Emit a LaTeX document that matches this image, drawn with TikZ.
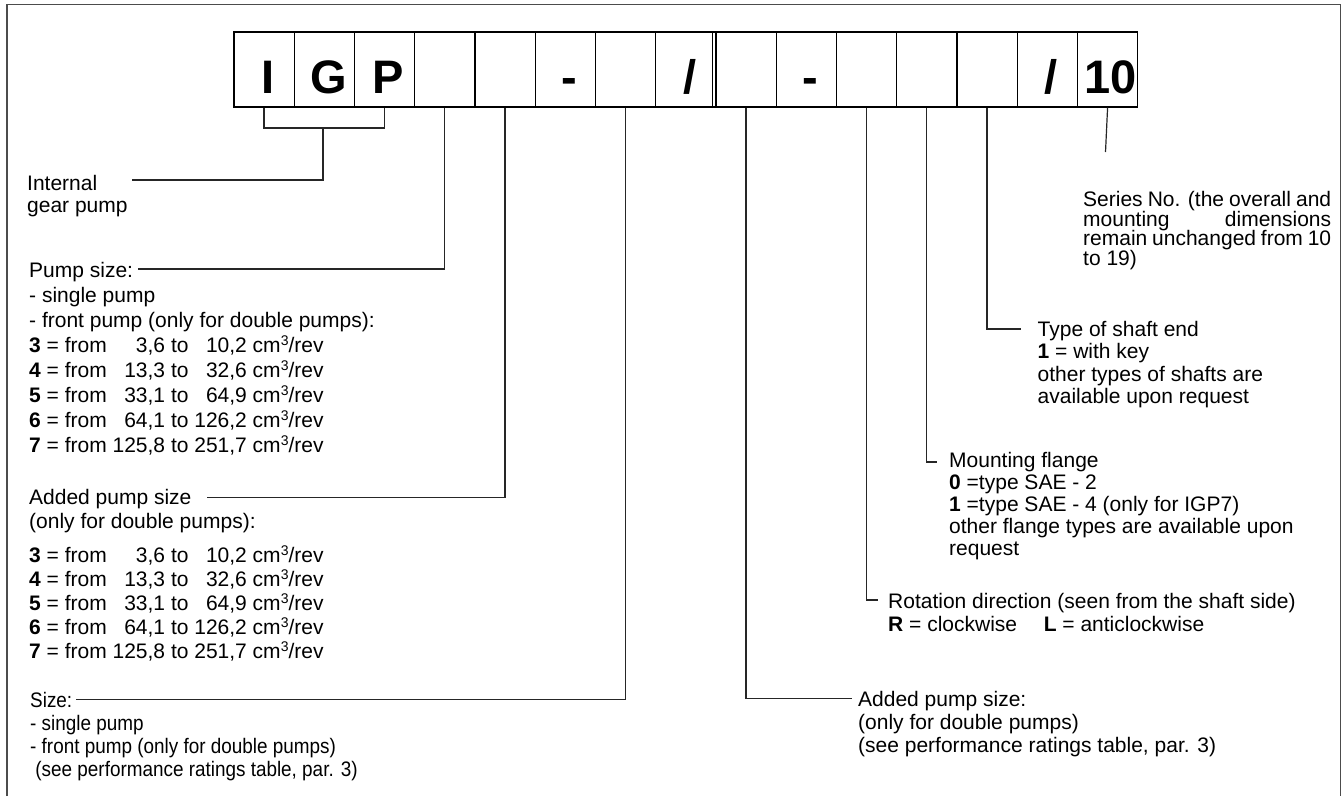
\documentclass[tikz,border=0pt]{standalone}
\usepackage{fontspec}
\setmainfont{Liberation Sans}
\newfontfamily\narrowfont[FakeStretch=0.9]{Liberation Sans}
\usetikzlibrary{calc}
\newcommand{\fsA}{\fontsize{21}{24}\selectfont}
\newcommand{\cubed}{\raisebox{7pt}{\fontsize{14}{14}\selectfont 3}}
\newcommand{\lns}[2]{\vtop{\baselineskip=#1pt\lineskiplimit=-100pt\lineskip=0pt #2}}
\tikzset{
  cell/.style={draw, line width=1.3pt, minimum width=60.25pt, minimum height=75pt, inner sep=0pt, anchor=west},
  glyph/.style={anchor=base, inner sep=0pt, font=\fontsize{47}{50}\selectfont\bfseries},
  txt/.style={anchor=base west, inner sep=0pt, font=\fsA},
  ntxt/.style={anchor=base west, inner sep=0pt, font=\narrowfont\fsA},
  conn/.style={line width=1.2pt, black!85},
  frame/.style={line width=1.6pt, black!70}
}
\begin{document}
\begin{tikzpicture}[x=1pt, y=-1pt]
\useasboundingbox (0,0) rectangle (1343,796);
\draw[frame] (7,796) -- (7,4.5) -- (1340.5,4.5) -- (1340.5,796);

% code boxes
\foreach \i in {1,...,15} \node[cell] (b\i) at ({233.3+60.25*(\i-1)}, 69.5) {};
\draw[line width=1pt] ($(b9.north west)+(-2.5,0)$) -- ($(b9.south west)+(-2.5,0)$);

\node[glyph] (gI)  at ($(b1.south)+(4,-14.5)$) {I};
\node[glyph] (gG)  at ($(b2.south)+(4,-14.5)$) {G};
\node[glyph] (gP)  at ($(b3.south)+(4,-14.5)$) {P};
\node[glyph] (gd1) at ($(b6.south)+(4,-14.5)$) {-};
\node[glyph] (gs1) at ($(b8.south)+(4,-14.5)$) {/};
\node[glyph] (gd2) at ($(b10.south)+(4,-14.5)$) {-};
\node[glyph] (gs2) at ($(b14.south)+(4,-14.5)$) {/};
\node[glyph] (g10) at ($(b15.south)+(3,-14.5)$) {10};

% left texts
\node[txt] (igp) at (27,190) {\lns{22.5}{\hbox{Internal}\hbox{gear pump}}};

\node[txt] (psz) at (29,277) {\lns{25}{%
\hbox{Pump size:}%
\hbox{- single pump}%
\hbox{- front pump (only for double pumps):}%
\hbox{\textbf{3} = from \phantom{12}3,6 to \phantom{1}10,2 cm\cubed/rev}%
\hbox{\textbf{4} = from \phantom{1}13,3 to \phantom{1}32,6 cm\cubed/rev}%
\hbox{\textbf{5} = from \phantom{1}33,1 to \phantom{1}64,9 cm\cubed/rev}%
\hbox{\textbf{6} = from \phantom{1}64,1 to 126,2 cm\cubed/rev}%
\hbox{\textbf{7} = from 125,8 to 251,7 cm\cubed/rev}}};

\node[txt] (add) at (29,504) {\lns{24}{%
\hbox{Added pump size}%
\hbox{(only for double pumps):}\vskip10.5pt
\hbox{\textbf{3} = from \phantom{12}3,6 to \phantom{1}10,2 cm\cubed/rev}%
\hbox{\textbf{4} = from \phantom{1}13,3 to \phantom{1}32,6 cm\cubed/rev}%
\hbox{\textbf{5} = from \phantom{1}33,1 to \phantom{1}64,9 cm\cubed/rev}%
\hbox{\textbf{6} = from \phantom{1}64,1 to 126,2 cm\cubed/rev}%
\hbox{\textbf{7} = from 125,8 to 251,7 cm\cubed/rev}}};

\node[ntxt] (size) at (30,707) {\lns{23}{%
\hbox{Size:}%
\hbox{- single pump}%
\hbox{- front pump (only for double pumps)}%
\hbox{\ (see performance ratings table, par. 3)}}};

% right texts
\node[txt] (series) at (1083,206.7) {\lns{19.5}{%
\hbox to 248pt{Series No. (the overall and}%
\hbox to 248pt{mounting\hfil dimensions}%
\hbox to 248pt{remain unchanged from 10}%
\hbox{to 19)}}};

\node[txt] (shaft) at (1037.5,336) {\lns{22.5}{%
\hbox{Type of shaft end}%
\hbox{\textbf{1} = with key}%
\hbox{other types of shafts are}%
\hbox{available upon request}}};

\node[txt] (flange) at (949,467) {\lns{22.2}{%
\hbox{Mounting flange}%
\hbox{\textbf{0} =type SAE - 2}%
\hbox{\textbf{1} =type SAE - 4 (only for IGP7)}%
\hbox{other flange types are available upon}%
\hbox{request}}};

\node[txt] (rot) at (888,608.5) {\lns{22.5}{%
\hbox{Rotation direction (seen from the shaft side)}%
\hbox{\makebox[155.6pt][l]{\textbf{R} = clockwise}\textbf{L} = anticlockwise}}};

\node[txt] (add2) at (858,706) {\lns{23.3}{%
\hbox{Added pump size:}%
\hbox{(only for double pumps)}%
\hbox{(see performance ratings table, par. 3)}}};

% connector end points
\coordinate (brk) at (323,128);
\coordinate (igpend) at (132,180);
\coordinate (pszend) at (138,269);
\coordinate (addend) at (207,497.5);
\coordinate (sizeend) at (76,699.5);
\coordinate (serend) at (1105.5,152);
\coordinate (shaftend) at (1021,329);
\coordinate (flangeend) at (937,462);
\coordinate (rotend) at (878,600);
\coordinate (add2end) at (852,698.5);

% connectors
\draw[conn] (b1.south) |- (brk) -| (b3.south);
\draw[conn] (brk) |- (igpend);
\draw[conn] (b4.south) |- (pszend);
\draw[conn] (b5.south) |- (addend);
\draw[conn] (b7.south) |- (sizeend);
\draw[conn] (b9.south) |- (add2end);
\draw[conn] (b11.south) |- (rotend);
\draw[conn] (b12.south) |- (flangeend);
\draw[conn] (b13.south) |- (shaftend);
\draw[conn] (b15.south) -- (serend);
\end{tikzpicture}
\end{document}
